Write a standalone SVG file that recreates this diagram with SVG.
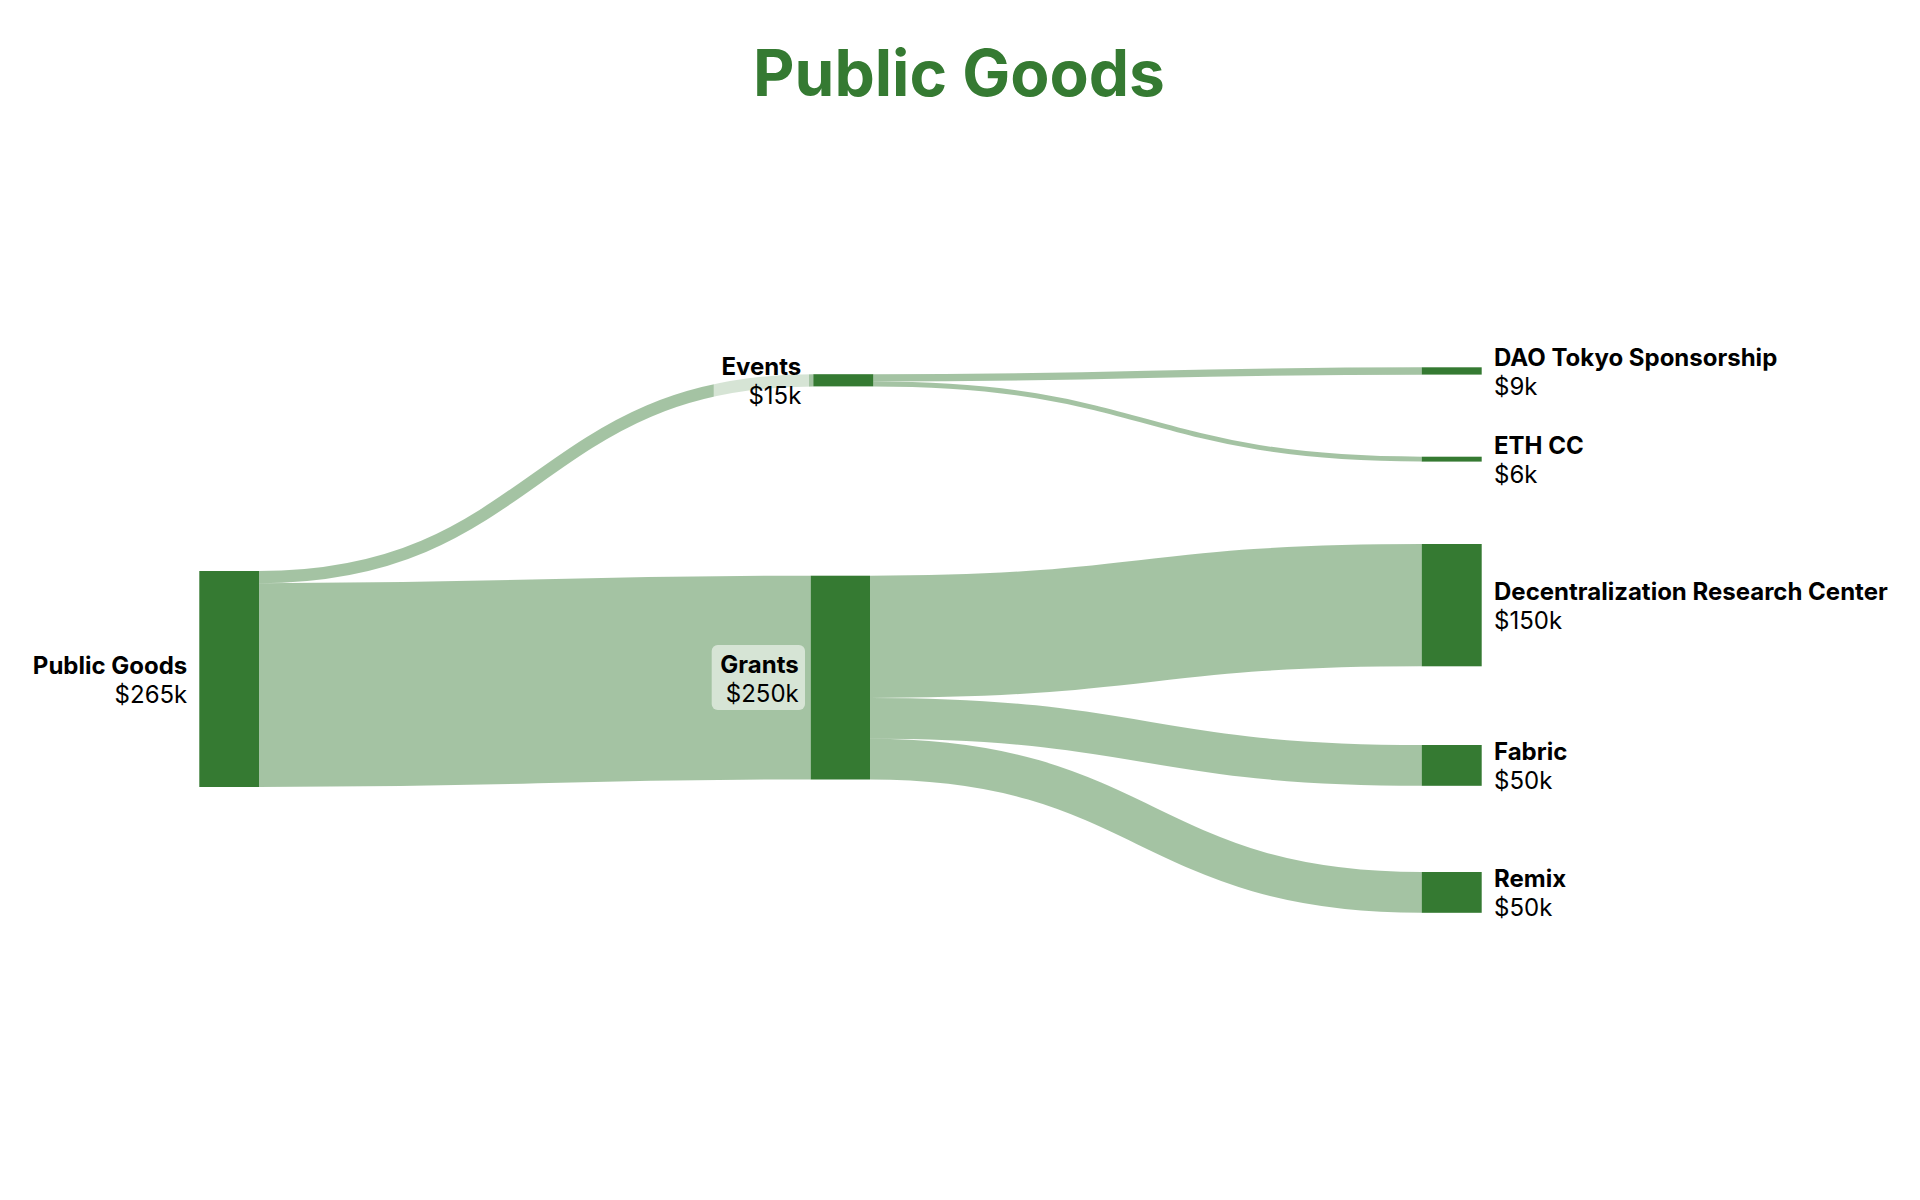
<svg xmlns="http://www.w3.org/2000/svg" width="1920" height="1200" viewBox="0 0 1920 1200">
<style>
.link{fill:none;stroke:#357a32;stroke-opacity:0.45}
.node{fill:#357a32}
.name{font-family:Inter,"Noto Sans","Liberation Sans",sans-serif;font-size:24px;font-weight:700;fill:#000}
.val{font-family:Inter,"Noto Sans","Liberation Sans",sans-serif;font-size:24px;font-weight:400;fill:#000}
.box{fill:#ffffff;fill-opacity:0.55}
.title{font-family:Inter,"Noto Sans","Liberation Sans",sans-serif;font-size:64px;font-weight:700;fill:#357a32}
</style>
<rect width="1920" height="1200" fill="#ffffff"/>
<text class="title" x="959" y="96" text-anchor="middle">Public Goods</text>
<g id="links">
<path class="link" stroke-width="12.2" d="M259,577.1 C536.2,577.1 536.2,380.3 813.3,380.3"/>
<path class="link" stroke-width="203.8" d="M259,685.1 C534.9,685.1 534.9,677.6 810.7,677.6"/>
<path class="link" stroke-width="7.3" d="M873.3,377.9 C1147.5,377.9 1147.5,371 1421.7,371"/>
<path class="link" stroke-width="4.9" d="M873.3,384 C1147.5,384 1147.5,459.1 1421.7,459.1"/>
<path class="link" stroke-width="122.3" d="M870,636.8 C1145.9,636.8 1145.9,605.1 1421.7,605.1"/>
<path class="link" stroke-width="40.8" d="M870,718.3 C1145.9,718.3 1145.9,765.4 1421.7,765.4"/>
<path class="link" stroke-width="40.8" d="M870,759.1 C1145.9,759.1 1145.9,892.4 1421.7,892.4"/>
</g>
<g id="node-public-goods">
<rect class="node" x="199.3" y="571" width="59.7" height="216"/>
<text class="name" x="187.3" y="674" text-anchor="end">Public Goods</text>
<text class="val" x="187.3" y="703" text-anchor="end">$265k</text>
</g>
<g id="node-events">
<rect class="node" x="813.3" y="374.2" width="60" height="12.2"/>
<rect class="box" x="713.7" y="348.6" width="95.3" height="64" rx="6"/>
<text class="name" x="801.3" y="375.3" text-anchor="end">Events</text>
<text class="val" x="801.3" y="404.3" text-anchor="end">$15k</text>
</g>
<g id="node-grants">
<rect class="node" x="810.7" y="575.7" width="59.3" height="203.8"/>
<rect class="box" x="711.7" y="645" width="93.3" height="65" rx="6"/>
<text class="name" x="798.7" y="672.6" text-anchor="end">Grants</text>
<text class="val" x="798.7" y="701.6" text-anchor="end">$250k</text>
</g>
<g id="node-dao-tokyo">
<rect class="node" x="1421.7" y="367.3" width="60" height="7.3"/>
<text class="name" x="1494" y="366">DAO Tokyo Sponsorship</text>
<text class="val" x="1494" y="395">$9k</text>
</g>
<g id="node-eth-cc">
<rect class="node" x="1421.7" y="456.7" width="60" height="4.9"/>
<text class="name" x="1494" y="454.1">ETH CC</text>
<text class="val" x="1494" y="483.1">$6k</text>
</g>
<g id="node-drc">
<rect class="node" x="1421.7" y="544" width="60" height="122.3"/>
<text class="name" x="1494" y="600.1">Decentralization Research Center</text>
<text class="val" x="1494" y="629.1">$150k</text>
</g>
<g id="node-fabric">
<rect class="node" x="1421.7" y="745" width="60" height="40.8"/>
<text class="name" x="1494" y="760.4">Fabric</text>
<text class="val" x="1494" y="789.4">$50k</text>
</g>
<g id="node-remix">
<rect class="node" x="1421.7" y="872" width="60" height="40.8"/>
<text class="name" x="1494" y="887.4">Remix</text>
<text class="val" x="1494" y="916.4">$50k</text>
</g>
</svg>
